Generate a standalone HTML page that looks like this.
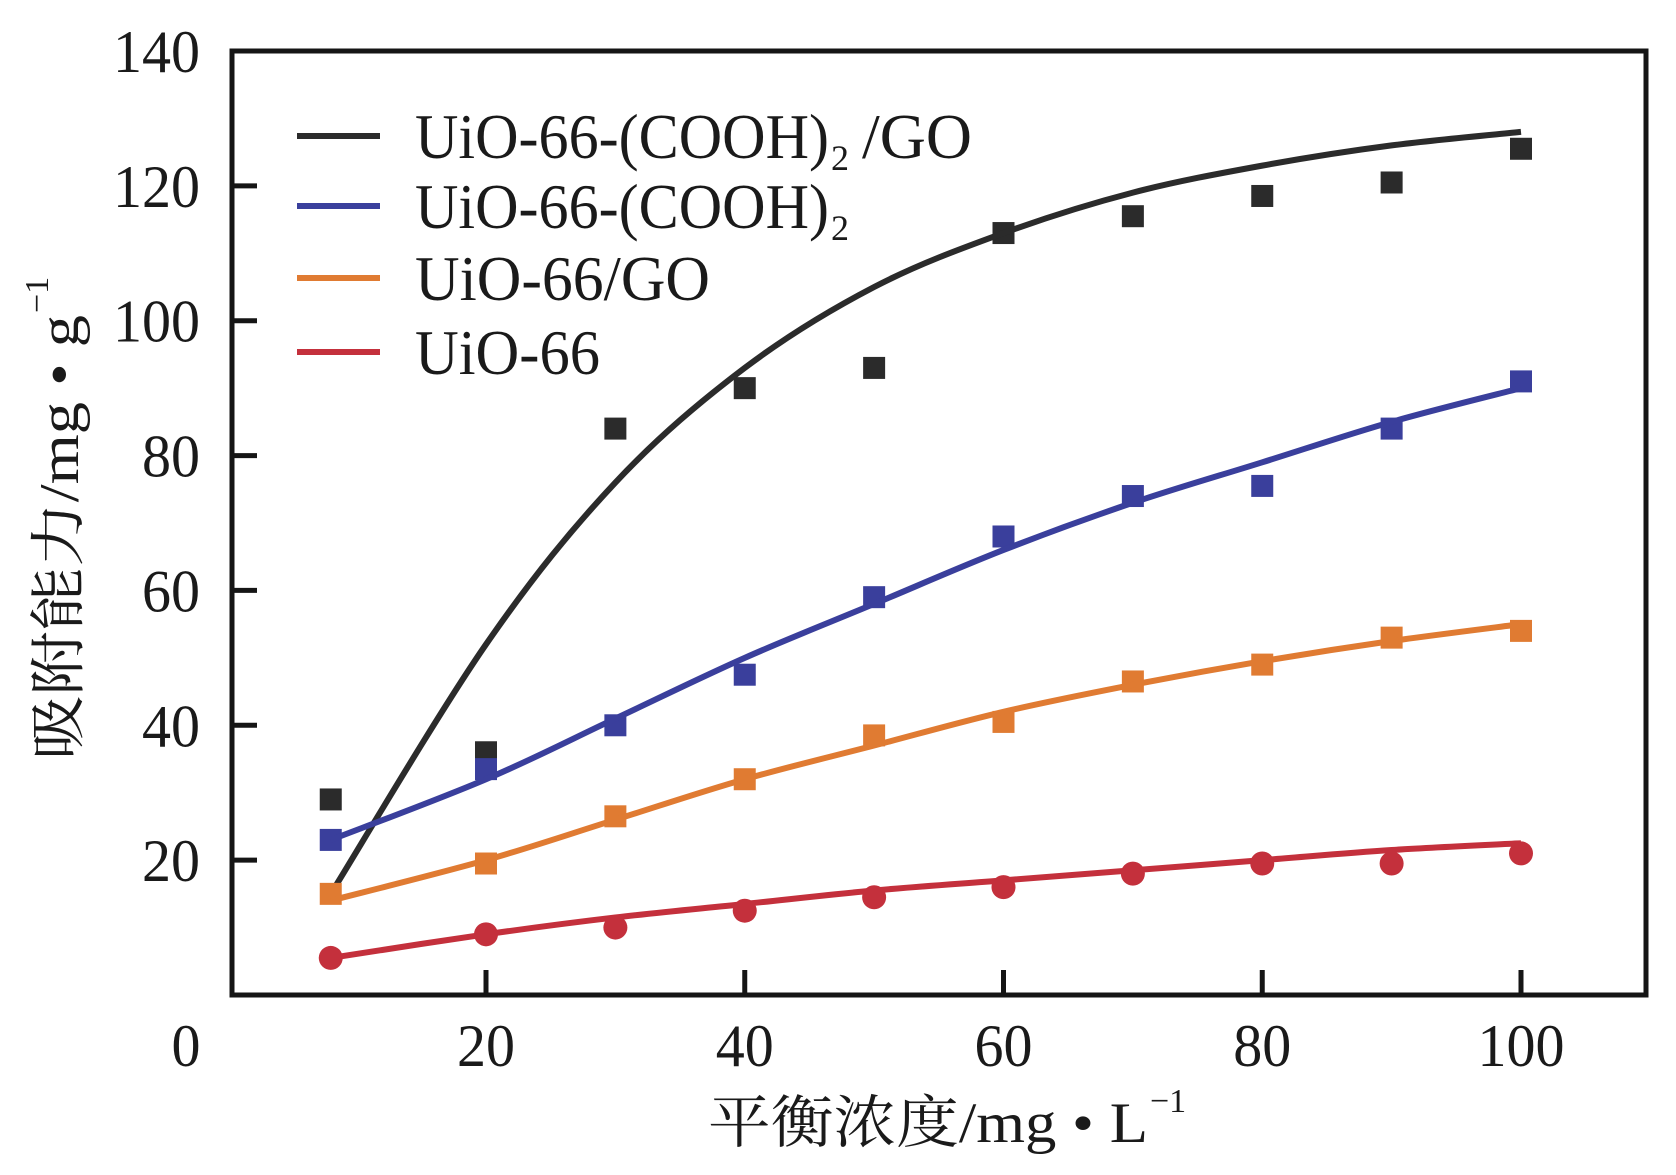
<!DOCTYPE html>
<html><head><meta charset="utf-8"><style>
html,body{margin:0;padding:0;background:#fff;}
svg{display:block;}
text{font-family:"Liberation Serif","Noto Serif CJK SC","Noto Sans CJK SC",serif;fill:#1a1a1a;}
</style></head><body>
<svg id="chart" width="1676" height="1175" viewBox="0 0 1676 1175" xmlns="http://www.w3.org/2000/svg">
<rect x="0" y="0" width="1676" height="1175" fill="#fff"/>
<g id="marks"></g>
<rect x="232" y="51" width="1414" height="944" fill="none" stroke="#151515" stroke-width="5"/>
<g id="axes"></g>
<text x="708" y="1142" font-size="57" textLength="440" lengthAdjust="spacingAndGlyphs">平衡浓度/mg • L</text>
<text x="1150" y="1112" font-size="34">−1</text>
<g transform="translate(78,760) rotate(-90)">
<text x="0" y="0" font-size="56" textLength="445" lengthAdjust="spacingAndGlyphs">吸附能力/mg • g</text>
<text x="447" y="-30" font-size="34">−1</text>
</g>
<g id="legend"></g>
</svg>
<script>
const xValues = [8, 20, 30, 40, 50, 60, 70, 80, 90, 100];
const seriesNames = ["UiO-66-(COOH)2/GO", "UiO-66-(COOH)2", "UiO-66/GO", "UiO-66"];
const blackPoints = [29, 36, 84, 90, 93, 113, 115.5, 118.5, 120.5, 125.5];
const blackFit = [15, 52, 76, 93, 105, 113, 119, 123, 126, 128];
const bluePoints = [23, 33.5, 40, 47.5, 59, 68, 74, 75.5, 84, 91];
const blueFit = [23, 32, 41, 50, 58, 66, 73, 79, 85, 90];
const orangePoints = [15, 19.5, 26.5, 32, 38.5, 40.5, 46.5, 49, 53, 54];
const orangeFit = [14, 20, 26, 32, 37, 42, 46, 49.5, 52.5, 55];
const redPoints = [5.5, 9, 10, 12.5, 14.5, 16, 18, 19.5, 19.5, 21];
const redFit = [5.5, 9, 11.5, 13.5, 15.5, 17, 18.5, 20, 21.5, 22.5];
const xTicks = [20, 40, 60, 80, 100];
const yTicks = [20, 40, 60, 80, 100, 120, 140];

const NS = "http://www.w3.org/2000/svg";
function xs(v){ return 486 + (v - 20) * 12.9375; }
function ys(v){ return 995 - v * (944 / 140); }
function mk(tag, attrs, parent){ const e = document.createElementNS(NS, tag); for (const k in attrs) e.setAttribute(k, attrs[k]); parent.appendChild(e); return e; }

const axes = document.getElementById('axes');
xTicks.forEach(t => {
  const l = mk('line', {x1: xs(t), x2: xs(t), y1: 995, y2: 970, stroke: '#151515', 'stroke-width': 5}, axes);
  
  
  const tx = mk('text', {x: xs(t), y: 1066, 'font-size': 60, 'text-anchor': 'middle', textLength: t >= 100 ? 87 : 58, lengthAdjust: 'spacingAndGlyphs'}, axes);
  tx.textContent = t;
  
  
});
const zero = mk('text', {x: 186, y: 1066, 'font-size': 60, 'text-anchor': 'middle', textLength: 29, lengthAdjust: 'spacingAndGlyphs'}, axes);
zero.textContent = '0';


yTicks.forEach(t => {
  if (t < 140) {
    const l = mk('line', {x1: 232, x2: 257, y1: ys(t), y2: ys(t), stroke: '#151515', 'stroke-width': 5}, axes);
    
    
  }
  const tx = mk('text', {x: 200, y: ys(t) + 21, 'font-size': 60, 'text-anchor': 'end', textLength: t >= 100 ? 87 : 58, lengthAdjust: 'spacingAndGlyphs'}, axes);
  tx.textContent = t;
  
  
});

function smoothPath(vals){
  const p = vals.map((v, i) => [xs(xValues[i]), ys(v)]);
  let d = 'M' + p[0][0] + ',' + p[0][1];
  for (let i = 0; i < p.length - 1; i++) {
    const p0 = p[i - 1] || p[i], p1 = p[i], p2 = p[i + 1], p3 = p[i + 2] || p2;
    const c1 = [p1[0] + (p2[0] - p0[0]) / 6, p1[1] + (p2[1] - p0[1]) / 6];
    const c2 = [p2[0] - (p3[0] - p1[0]) / 6, p2[1] - (p3[1] - p1[1]) / 6];
    d += ' C' + c1.join(',') + ' ' + c2.join(',') + ' ' + p2.join(',');
  }
  return d;
}
const series = [
  {key: 'uio66-cooh2-go', color: '#2b2b2b', pts: blackPoints, fit: blackFit, shape: 'square'},
  {key: 'uio66-cooh2', color: '#3a3f9c', pts: bluePoints, fit: blueFit, shape: 'square'},
  {key: 'uio66-go', color: '#e07b32', pts: orangePoints, fit: orangeFit, shape: 'square'},
  {key: 'uio66', color: '#c4303c', pts: redPoints, fit: redFit, shape: 'circle'}
];
const marks = document.getElementById('marks');
series.forEach(s => {
  const g = mk('g', {}, marks);
  
  
  s.pts.forEach((v, i) => {
    let m;
    if (s.shape === 'square') m = mk('rect', {x: xs(xValues[i]) - 11, y: ys(v) - 11, width: 22, height: 22, fill: s.color}, g);
    else m = mk('circle', {cx: xs(xValues[i]), cy: ys(v), r: 12, fill: s.color}, g);
    
    
  });
  const path = mk('path', {d: smoothPath(s.fit), fill: 'none', stroke: s.color, 'stroke-width': 6}, g);
  
  
});

const legend = document.getElementById('legend');
const legY = [136, 206, 278, 352];
const legLabels = [
  {main: 'UiO-66-(COOH)', sub: '2', tail: '/GO', w: 414},
  {main: 'UiO-66-(COOH)', sub: '2', tail: '', w: 414},
  {main: 'UiO-66/GO', sub: '', tail: '', w: 295},
  {main: 'UiO-66', sub: '', tail: '', w: 185}
];
series.forEach((s, i) => {
  const g = mk('g', {}, legend);
  
  
  mk('line', {x1: 297, x2: 380, y1: legY[i], y2: legY[i], stroke: s.color, 'stroke-width': 6}, g);
  const L = legLabels[i];
  const t = mk('text', {x: 415, y: legY[i] + 22, 'font-size': 64, textLength: L.w, lengthAdjust: 'spacingAndGlyphs'}, g);
  t.textContent = L.main;
  if (L.sub) {
    const sb = mk('text', {x: 415 + L.w + 2, y: legY[i] + 34, 'font-size': 36}, g);
    sb.textContent = L.sub;
  }
  if (L.tail) {
    const tl = mk('text', {x: 862, y: legY[i] + 22, 'font-size': 64, textLength: 110, lengthAdjust: 'spacingAndGlyphs'}, g);
    tl.textContent = L.tail;
  }
});
</script>
</body></html>
